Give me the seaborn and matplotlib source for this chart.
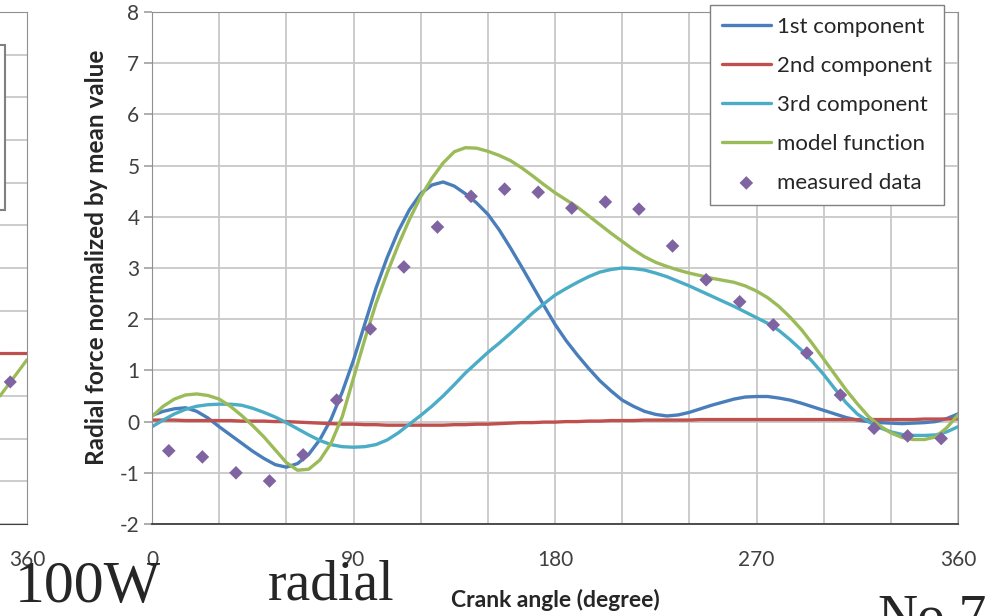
import matplotlib
matplotlib.use("Agg")
import matplotlib.pyplot as plt
from matplotlib.patches import Rectangle
import pandas as pd
import seaborn as sns

# settings
sns.set_style("white")
plt.rcParams['font.family'] = ['Lato', 'DejaVu Sans']
plt.rcParams['axes.unicode_minus'] = False

# data (every 5 degrees)
angle = [0, 5, 10, 15, 20, 25, 30, 35, 40, 45, 50, 55, 60, 65, 70, 75, 80, 85, 90,
         95, 100, 105, 110, 115, 120, 125, 130, 135, 140, 145, 150, 155, 160, 165, 170, 175, 180,
         185, 190, 195, 200, 205, 210, 215, 220, 225, 230, 235, 240, 245, 250, 255, 260, 265, 270,
         275, 280, 285, 290, 295, 300, 305, 310, 315, 320, 325, 330, 335, 340, 345, 350, 355, 360]
first = [0.12, 0.2, 0.25, 0.27, 0.2, 0.07, -0.1, -0.26, -0.42, -0.58, -0.72, -0.84, -0.89,
         -0.82, -0.64, -0.35, 0.05, 0.58, 1.2, 1.9, 2.6, 3.2, 3.72, 4.14, 4.45, 4.62, 4.68,
         4.6, 4.45, 4.27, 4.05, 3.75, 3.4, 3.03, 2.65, 2.27, 1.9, 1.58, 1.3, 1.04, 0.8, 0.6,
         0.42, 0.3, 0.2, 0.14, 0.11, 0.13, 0.18, 0.25, 0.32, 0.38, 0.44, 0.48, 0.49, 0.49,
         0.46, 0.42, 0.36, 0.29, 0.22, 0.15, 0.08, 0.03, 0.0, -0.02, -0.03, -0.04, -0.03,
         -0.02, 0.0, 0.06, 0.15]
second = [0.03, 0.03, 0.03, 0.02, 0.02, 0.02, 0.02, 0.02, 0.01, 0.01, 0.01, 0.0, 0.0,
          -0.01, -0.02, -0.03, -0.04, -0.05, -0.05, -0.06, -0.06, -0.07, -0.07, -0.07, -0.07,
          -0.07, -0.07, -0.06, -0.06, -0.05, -0.05, -0.04, -0.03, -0.02, -0.02, -0.01, -0.01,
          0.0, 0.0, 0.01, 0.01, 0.02, 0.02, 0.02, 0.03, 0.03, 0.03, 0.03, 0.03,
          0.04, 0.04, 0.04, 0.04, 0.04, 0.04, 0.04, 0.04, 0.04, 0.04, 0.04, 0.04, 0.04, 0.04,
          0.04, 0.04, 0.04, 0.04, 0.04, 0.04, 0.05, 0.05, 0.05, 0.05]
third = [-0.1, 0.03, 0.15, 0.24, 0.3, 0.33, 0.34, 0.34, 0.32, 0.26, 0.18, 0.09, -0.02,
         -0.14, -0.26, -0.37, -0.45, -0.49, -0.5, -0.49, -0.45, -0.36, -0.22, -0.05, 0.12,
         0.3, 0.5, 0.72, 0.95, 1.15, 1.35, 1.53, 1.72, 1.92, 2.12, 2.3, 2.47, 2.6, 2.72, 2.83,
         2.92, 2.97, 3.0, 2.99, 2.96, 2.9, 2.83, 2.74, 2.65, 2.55, 2.45, 2.35, 2.25, 2.14, 2.03,
         1.92, 1.78, 1.6, 1.4, 1.17, 0.92, 0.64, 0.37, 0.15, 0.0, -0.12, -0.2, -0.25, -0.27,
         -0.27, -0.26, -0.2, -0.1]
model = [0.1, 0.3, 0.44, 0.52, 0.54, 0.51, 0.44, 0.3, 0.12, -0.08, -0.3, -0.55, -0.8,
         -0.95, -0.93, -0.75, -0.42, 0.1, 0.85, 1.6, 2.3, 2.9, 3.45, 3.95, 4.39, 4.75, 5.05,
         5.27, 5.35, 5.34, 5.28, 5.2, 5.1, 4.96, 4.8, 4.63, 4.47, 4.33, 4.19, 4.02, 3.85, 3.68,
         3.52, 3.36, 3.22, 3.11, 3.03, 2.96, 2.9, 2.85, 2.8, 2.76, 2.72, 2.65, 2.55, 2.42, 2.25,
         2.04, 1.8, 1.52, 1.22, 0.92, 0.62, 0.35, 0.1, -0.08, -0.22, -0.31, -0.35, -0.35, -0.3,
         -0.12, 0.13]
measured_angle = [7.5, 22.5, 37.5, 52.5, 67.5, 82.5, 97.5, 112.5, 127.5, 142.5, 157.5, 172.5,
                  187.5, 202.5, 217.5, 232.5, 247.5, 262.5, 277.5, 292.5, 307.5, 322.5, 337.5, 352.5]
measured = [-0.57, -0.69, -1.0, -1.16, -0.65, 0.42, 1.81, 3.02, 3.8, 4.4, 4.54, 4.48, 4.17, 4.29,
            4.15, 3.43, 2.77, 2.34, 1.89, 1.34, 0.52, -0.13, -0.28, -0.33]

names = ["1st component", "2nd component", "3rd component", "model function"]
colors = ["#4a7ebb", "#c0504d", "#4bacc6", "#9bbb59"]
purple = "#8064a2"

# fragment of the neighbouring chart on the left
left_angle = [347.9, 360]
left_red = [4.0, 4.0]
left_green = [3.0, 3.85]
left_point_angle = [352.5]
left_point = [3.33]

fig = plt.figure(figsize=(9.9, 6.16), dpi=100)

# left neighbour (only its right edge is visible)
ax0 = fig.add_axes([0, 92 / 616, 27 / 990, 512 / 616])
sns.lineplot(x=left_angle, y=left_red, color=colors[1], linewidth=2.3, ax=ax0)
sns.lineplot(x=left_angle, y=left_green, color=colors[3], linewidth=2.3, ax=ax0)
sns.scatterplot(x=left_point_angle, y=left_point, marker='D', color=purple, s=45,
                edgecolor='none', ax=ax0, zorder=5)
ax0.set_xlim(left_angle[0], 360)
ax0.set_ylim(0, 12)
ax0.set_xticks([360])
ax0.set_yticks(range(0, 13))
ax0.set_yticklabels([])
ax0.grid(axis='y', color='#c8c8c8', lw=1.3)
ax0.tick_params(axis='x', length=0, pad=19, labelsize=15, labelcolor='#404040')
ax0.tick_params(axis='y', length=0)
for s in ['left', 'top', 'right']:
    ax0.spines[s].set_color('#909090')
ax0.spines['left'].set_visible(False)
ax0.spines['bottom'].set_color('#404040')
fig.patches.append(Rectangle((-0.1, 1 - 210 / 616), 0.1 + 5 / 990, 165 / 616,
                             transform=fig.transFigure, facecolor='white',
                             edgecolor='#808080', lw=1.5, zorder=5))

# main chart
ax = fig.add_axes([152 / 990, 92 / 616, 806 / 990, 512 / 616])
for name, vals, c in zip(names, [first, second, third, model], colors):
    sns.lineplot(x=angle, y=vals, color=c, linewidth=2.4, label=name, ax=ax)
sns.scatterplot(x=measured_angle, y=measured, marker='D', color=purple, s=48,
                edgecolor='none', label='measured data', ax=ax, zorder=5)

ax.set_xlim(0, 360)
ax.set_ylim(-2, 8)
ax.set_xticks([0, 90, 180, 270, 360])
ax.set_xticks(range(0, 361, 30), minor=True)
ax.set_yticks(range(-2, 9))
ax.grid(which='both', axis='x', color='#c8c8c8', lw=1.3)
ax.grid(axis='y', color='#c8c8c8', lw=1.3)
ax.tick_params(axis='x', which='both', length=0, pad=19, labelsize=15, labelcolor='#404040')
ax.tick_params(axis='y', length=6, direction='out', color='#a0a0a0', width=1.2,
               pad=3, labelsize=15, labelcolor='#404040', left=True)
for s in ['left', 'top', 'right']:
    ax.spines[s].set_color('#909090')
ax.spines['bottom'].set_color('#404040')
ax.spines['bottom'].set_linewidth(1.3)

ax.set_ylabel("Radial force normalized by mean value", fontweight='bold', fontsize=17.5,
              color='#262626')
ax.yaxis.set_label_coords(-(152 - 97) / 806, 0.52)
ax.yaxis.label.set_va('center')
ax.set_xlabel("Crank angle (degree)", fontweight='bold', fontsize=16.5, color='#262626')
ax.xaxis.set_label_coords(0.5, -(600 - 524) / 512)
ax.xaxis.label.set_va('center')

ax.legend(loc='upper right', bbox_to_anchor=(944 / 990, 1 - 5 / 616),
          bbox_transform=fig.transFigure, frameon=True, fancybox=False,
          edgecolor='#808080', framealpha=1, fontsize=16, handlelength=2.2,
          labelspacing=0.85, borderaxespad=0, borderpad=0.55, handletextpad=0.27)

# stray caption text around the chart
serif = ['Liberation Serif', 'DejaVu Serif']
fig.text(15 / 990, 1 - 602 / 616, "100W", family=serif, fontsize=43, va='baseline')
fig.text(268 / 990, 1 - 600 / 616, "radial", family=serif, fontsize=40, va='baseline')
fig.text(877 / 990, 1 - 633 / 616, "No.7", family=serif, fontsize=40, va='baseline')

fig.savefig("out.png", dpi=100)
plt.close()
